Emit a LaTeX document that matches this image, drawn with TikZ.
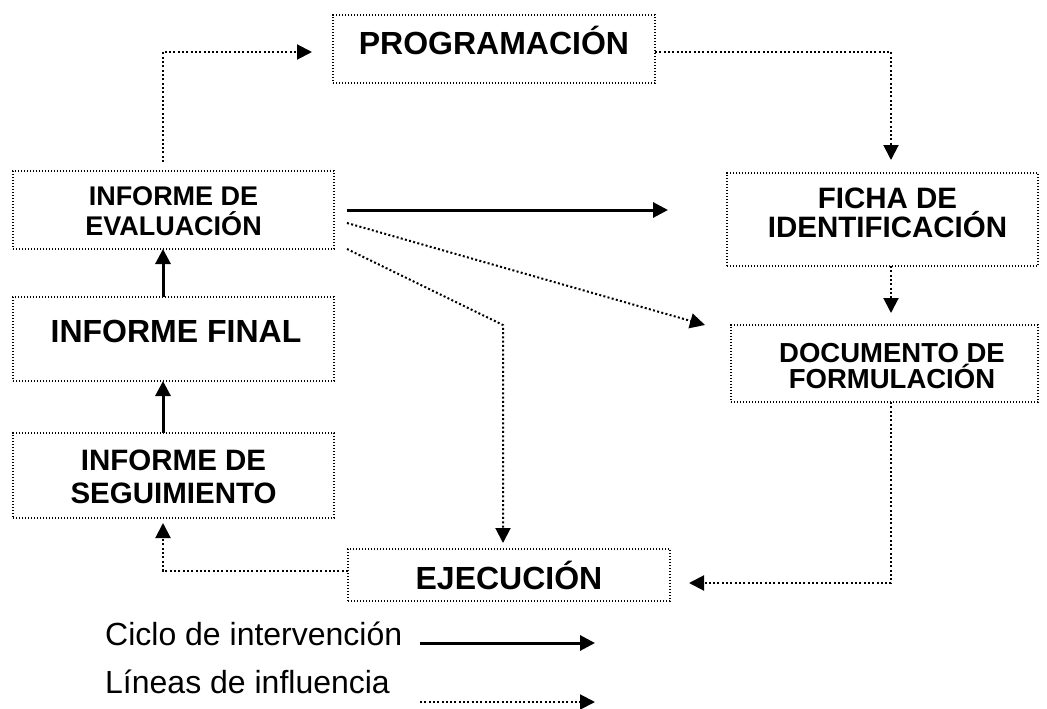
\documentclass[tikz,border=0pt]{standalone}
\usepackage{fontspec}
\setmainfont{Liberation Sans}
\usetikzlibrary{arrows.meta}
\newcommand\myfs[1]{\fontsize{#1}{#1}\selectfont}
\begin{document}
\begin{tikzpicture}[x=1pt,y=-1pt,
  box/.style={draw=black, line width=1.5pt, dash pattern=on 1.3pt off 1.7pt, inner sep=0pt, outer sep=0pt},
  lbl/.style={anchor=base, inner sep=0pt, font=\bfseries},
  infl/.style={line width=2pt, dash pattern=on 2pt off 2.3pt, -{Triangle[length=15pt,width=15pt]}},
  cyc/.style={line width=3pt, -{Triangle[length=15pt,width=15pt]}},
  leg/.style={anchor=base west, inner sep=0pt}]
\fill[white] (0,0) rectangle (1047,709);
\useasboundingbox (0,0) rectangle (1047,709);

% boxes
\node[box, minimum width=322pt, minimum height=68pt] (prog)  at (494,49) {};
\node[box, minimum width=321pt, minimum height=78pt] (eval)  at (173.5,210) {};
\node[box, minimum width=321pt, minimum height=84pt] (final) at (173.5,339) {};
\node[box, minimum width=321pt, minimum height=85pt] (seg)   at (173.5,475.5) {};
\node[box, minimum width=311pt, minimum height=93pt] (ficha) at (882.5,219.5) {};
\node[box, minimum width=307pt, minimum height=77pt] (doc)   at (884.5,363.5) {};
\node[box, minimum width=322pt, minimum height=52pt] (ejec)  at (509,575) {};

% texts
\node[lbl] (progt) at (494,55) {\myfs{32}PROGRAMACIÓN};
\node[lbl] (evalt1) at (173.5,205) {\myfs{27}INFORME DE};
\node[lbl] (evalt2) at (173.5,235) {\myfs{27}EVALUACIÓN};
\node[lbl] (finalt) at (176,342) {\myfs{32}INFORME FINAL};
\node[lbl] (segt1) at (173.5,470) {\myfs{29.5}INFORME DE};
\node[lbl] (segt2) at (173.5,503) {\myfs{29.5}SEGUIMIENTO};
\node[lbl] (fichat1) at (887.5,208) {\myfs{29.5}FICHA DE};
\node[lbl] (fichat2) at (887.5,237) {\myfs{29.5}IDENTIFICACIÓN};
\node[lbl] (doct1) at (892,362) {\myfs{27.5}DOCUMENTO DE};
\node[lbl] (doct2) at (892,388) {\myfs{27.5}FORMULACIÓN};
\node[lbl] (eject) at (509,589) {\myfs{32}EJECUCIÓN};

% connectors
\draw[infl] ([xshift=-10.5pt,yshift=9pt]eval.north) |- ([xshift=-21pt,yshift=-3pt]prog.west);
\draw[infl] ([yshift=-3pt]prog.east) -| ([xshift=8.5pt,yshift=13pt]ficha.north);
\draw[infl] ([xshift=8.5pt]ficha.south) -- ([xshift=6.5pt,yshift=12pt]doc.north);
\draw[infl] ([xshift=6.5pt]doc.south) |- ([xshift=19pt,yshift=-8pt]ejec.east);
\draw[infl] ([yshift=4pt]ejec.west) -| ([xshift=-10.5pt,yshift=-5pt]seg.south);
\draw[cyc] ([xshift=-10.5pt]seg.north) -- ([xshift=-10.5pt]final.south);
\draw[cyc] ([xshift=-10.5pt]final.north) -- ([xshift=-10.5pt]eval.south);
\draw[cyc] ([xshift=13pt]eval.east) -- ([xshift=-59pt,yshift=9.5pt]ficha.west);
\draw[infl] ([xshift=13pt,yshift=-13pt]eval.east) -- ([xshift=-26pt]doc.north west);
\coordinate (bend) at (503,325);
\draw[infl] ([xshift=13pt]eval.south east) -- (bend) -- ([xshift=-6pt,yshift=6pt]ejec.north);

% legend
\node[leg] (leg1) at (105,645) {\myfs{32}Ciclo de intervención};
\node[leg] (leg2) at (105,693) {\myfs{32}Líneas de influencia};
\coordinate (l1s) at (420,643);
\coordinate (l1e) at (595,643);
\coordinate (l2s) at (420,702);
\coordinate (l2e) at (595,702);
\draw[cyc] (l1s) -- (l1e);
\draw[infl] (l2s) -- (l2e);
\end{tikzpicture}
\end{document}
